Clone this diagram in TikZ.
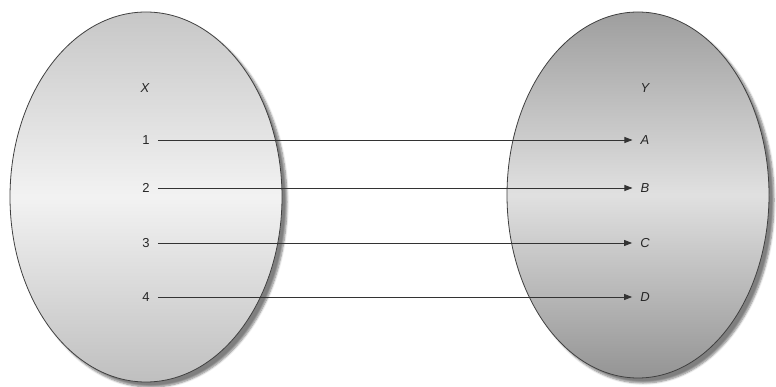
\documentclass[tikz,border=0pt]{standalone}
\usepackage{fontspec}
\setmainfont{Liberation Sans}
\usetikzlibrary{shapes.geometric,arrows.meta,shadows.blur}
\begin{document}
\begin{tikzpicture}[x=1pt,y=-1pt,
  setel/.style={ellipse, draw=black!75, line width=0.8pt, inner sep=0pt,
    blur shadow={shadow xshift=5pt, shadow yshift=-5pt, shadow blur steps=6, shadow opacity=50}},
  elemlbl/.style={font=\fontsize{13}{15}\selectfont, text=black!85, inner sep=1pt},
  mapline/.style={draw=black!80, line width=0.8pt, -{Triangle[length=8pt,width=6pt]}}]
\useasboundingbox (0,0) rectangle (776,387);
\node[setel, minimum width=272pt, minimum height=370pt,
  top color=black!22, bottom color=black!25, middle color=black!5] (setX) at (146,197) {};
\node[setel, minimum width=262pt, minimum height=366pt,
  top color=black!38, bottom color=black!42, middle color=black!12] (setY) at (638,195) {};
\node[elemlbl] (lx) at (145,88) {\itshape X};
\node[elemlbl] (ly) at (645,88) {\itshape Y};
\node[elemlbl] (n1) at (146,140) {1};
\node[elemlbl] (n2) at (146,188) {2};
\node[elemlbl] (n3) at (146,243) {3};
\node[elemlbl] (n4) at (146,297) {4};
\node[elemlbl] (nA) at (645,140) {\itshape A};
\node[elemlbl] (nB) at (645,188) {\itshape B};
\node[elemlbl] (nC) at (645,243) {\itshape C};
\node[elemlbl] (nD) at (645,297) {\itshape D};
\draw[mapline] ([xshift=7pt]n1.east) -- ([xshift=-7pt]nA.west);
\draw[mapline] ([xshift=7pt]n2.east) -- ([xshift=-7pt]nB.west);
\draw[mapline] ([xshift=7pt]n3.east) -- ([xshift=-7pt]nC.west);
\draw[mapline] ([xshift=7pt]n4.east) -- ([xshift=-7pt]nD.west);
\end{tikzpicture}
\end{document}
